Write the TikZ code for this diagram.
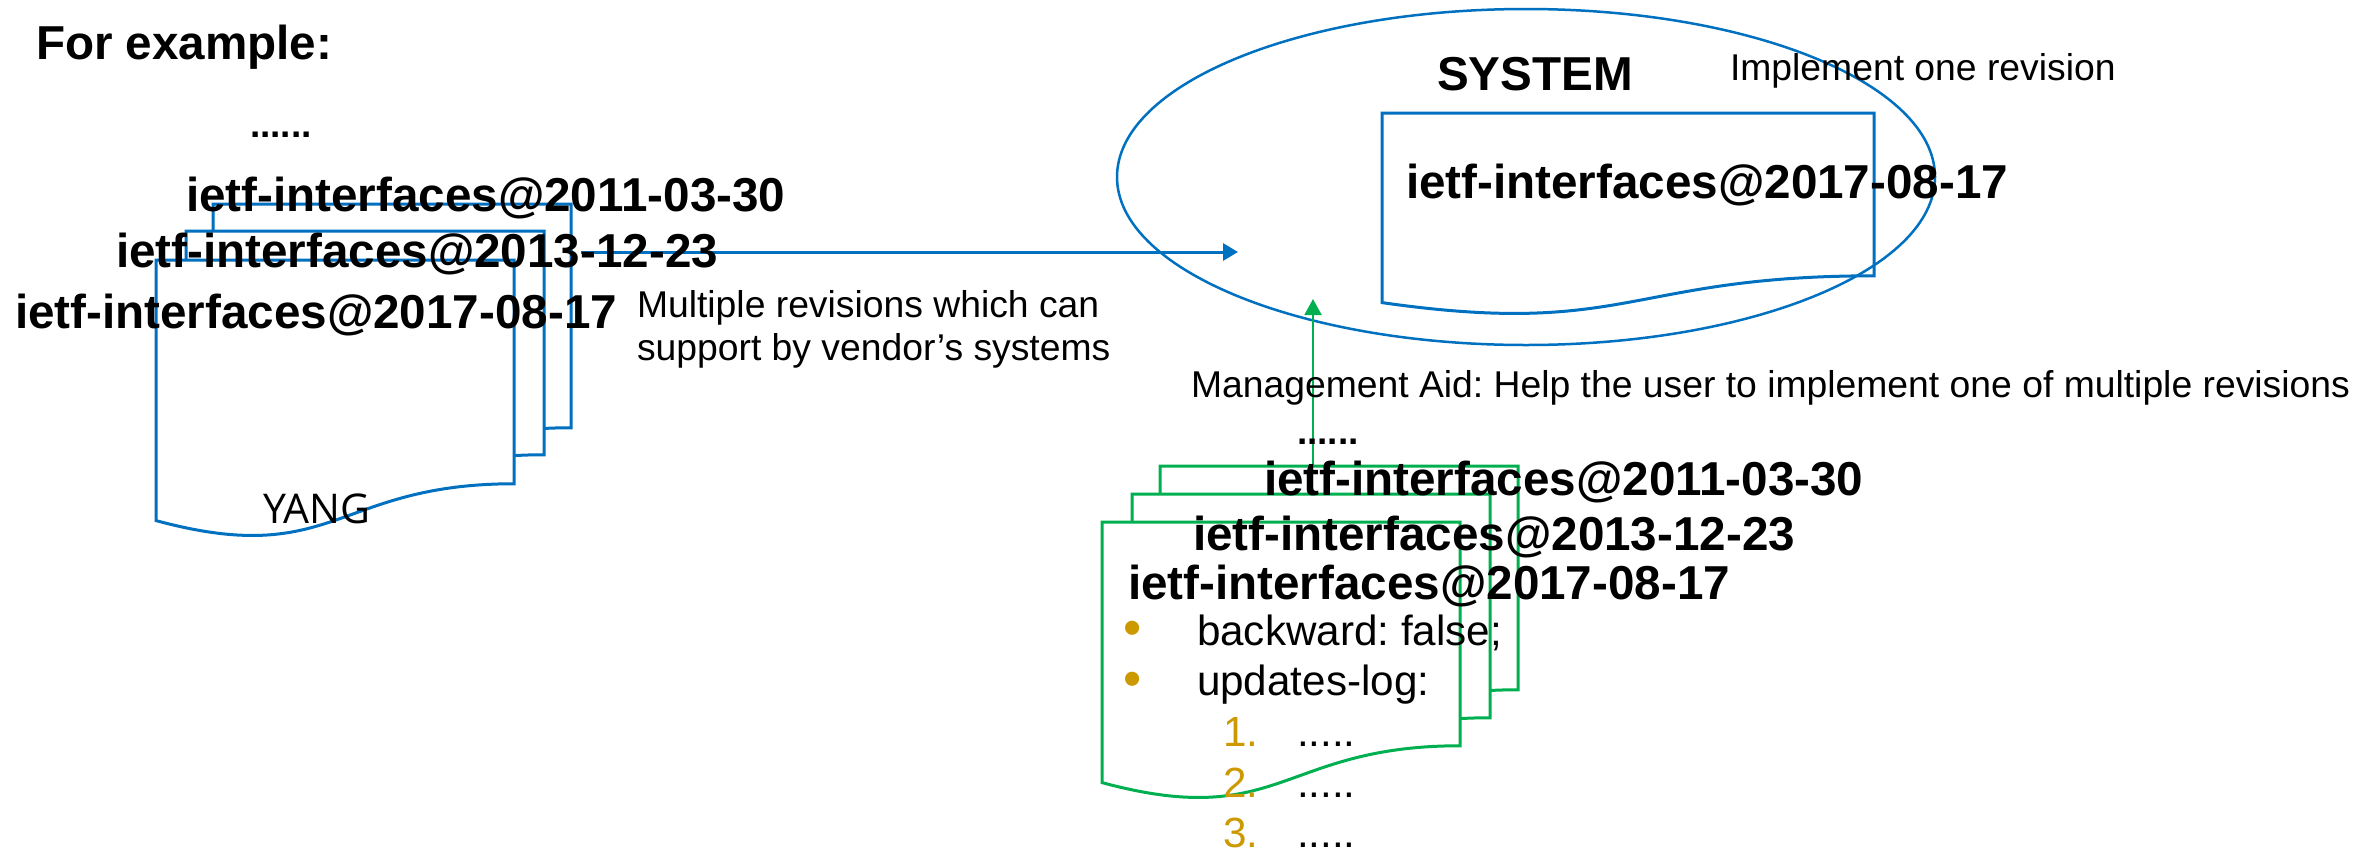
\documentclass[tikz,border=0pt]{standalone}
\usepackage{fontspec}
\setmainfont{Liberation Sans}
\newfontfamily\yangfont{Open Sans}
\usetikzlibrary{arrows.meta,shapes.geometric}
\frenchspacing
\definecolor{pblue}{HTML}{0070C0}
\definecolor{pgreen}{HTML}{00B050}
\definecolor{pgold}{RGB}{204,153,0}
\newcommand\ydoc[5]{%
  \draw[#1] (#2,#3) -- ({#2+#4},#3) -- ({#2+#4},{#3+0.802*#5})
    .. controls ({#2+0.5*#4},{#3+0.802*#5}) and ({#2+0.5*#4},{#3+1.1075*#5}) ..
    (#2,{#3+0.934*#5}) -- cycle;}
\tikzset{
  lbl/.style={inner sep=0pt, outer sep=0pt, anchor=base west},
  bigb/.style={lbl, font=\fontsize{47.6}{57}\selectfont\bfseries},
  reg/.style={lbl, font=\fontsize{37.3}{45}\selectfont},
  lst/.style={lbl, font=\fontsize{42.2}{50}\selectfont},
  bul/.style={lbl, text=pgold, font=\fontsize{52}{60}\selectfont},
  num/.style={lst, text=pgold},
  dotrow/.style={lbl, font=\fontsize{37}{44}\selectfont\bfseries},
  bluedoc/.style={draw=pblue, line width=3pt, fill=white},
  greendoc/.style={draw=pgreen, line width=3pt, fill=white},
  bluearrow/.style={draw=pblue, line width=3pt, -{Triangle[length=15pt,width=17pt]}},
  greenarrow/.style={draw=pgreen, line width=2pt, -{Triangle[length=16pt,width=17pt]}},
}
\begin{document}
\begin{tikzpicture}[x=1pt,y=-1pt]
\useasboundingbox[fill=white] (0,0) rectangle (2366,852);

% system ellipse and its document
\node[ellipse, draw=pblue, line width=2.5pt, minimum width=818pt, minimum height=336pt, inner sep=0pt] (sys) at (1526,177) {};
\ydoc{draw=pblue, line width=3pt}{1382}{113}{492}{203}

% left YANG stack
\ydoc{bluedoc}{213}{204}{358}{279}
\ydoc{bluedoc}{186}{231}{358}{279}
\ydoc{bluedoc}{156}{260}{358}{279}

% green stack
\ydoc{greendoc}{1160}{466}{358}{279}
\ydoc{greendoc}{1132}{494}{358}{279}
\ydoc{greendoc}{1102}{522}{358}{279}

% connectors
\coordinate (stackE) at (581,252);
\coordinate (sysIn) at (1238,252);
\coordinate (gstackN) at (1313,466);
\coordinate (sysLow) at (1313,299);
\draw[bluearrow] (stackE) -- (sysIn);
\draw[greenarrow] (gstackN) -- (sysLow);

% left texts
\node[bigb] (title) at (36,59) {For example:};
\node[dotrow] (bdots) at (250,137) {......};
\node[bigb] (b2011) at (186,211) {ietf-interfaces@2011-03-30};
\node[bigb] (b2013) at (116,267) {ietf-interfaces@2013-12-23};
\node[bigb] (b2017) at (15,328) {ietf-interfaces@2017-08-17};
\node[reg] (multi1) at (637,317) {Multiple revisions which can};
\node[reg] (multi2) at (637,360) {support by vendor’s systems};
\node[lbl, font=\fontsize{41}{48}\yangfont\selectfont] (yang) at (263,523) {YANG};

% system texts
\node[bigb] (systxt) at (1437,90) {SYSTEM};
\node[reg] (impl) at (1730,80) {Implement one revision};
\node[bigb] (s2017) at (1406,198) {ietf-interfaces@2017-08-17};
\node[reg] (mgmt) at (1191,397) {Management Aid: Help the user to implement one of multiple revisions};

% green texts
\node[dotrow] (gdots) at (1297,444) {......};
\node[bigb] (g2011) at (1264,495) {ietf-interfaces@2011-03-30};
\node[bigb] (g2013) at (1193,550) {ietf-interfaces@2013-12-23};
\node[bigb] (g2017) at (1128,599) {ietf-interfaces@2017-08-17};
\node[bul] (bul1) at (1123,645) {•};
\node[lst] (bwd) at (1197,645) {backward: false;};
\node[bul] (bul2) at (1123,696) {•};
\node[lst] (upd) at (1197,695) {updates-log:};
\node[num] (n1) at (1223,746) {1.};
\node[lst] (d1) at (1297,746) {.....};
\node[num] (n2) at (1223,797) {2.};
\node[lst] (d2) at (1297,797) {.....};
\node[num] (n3) at (1223,847) {3.};
\node[lst] (d3) at (1297,847) {.....};
\end{tikzpicture}
\end{document}
